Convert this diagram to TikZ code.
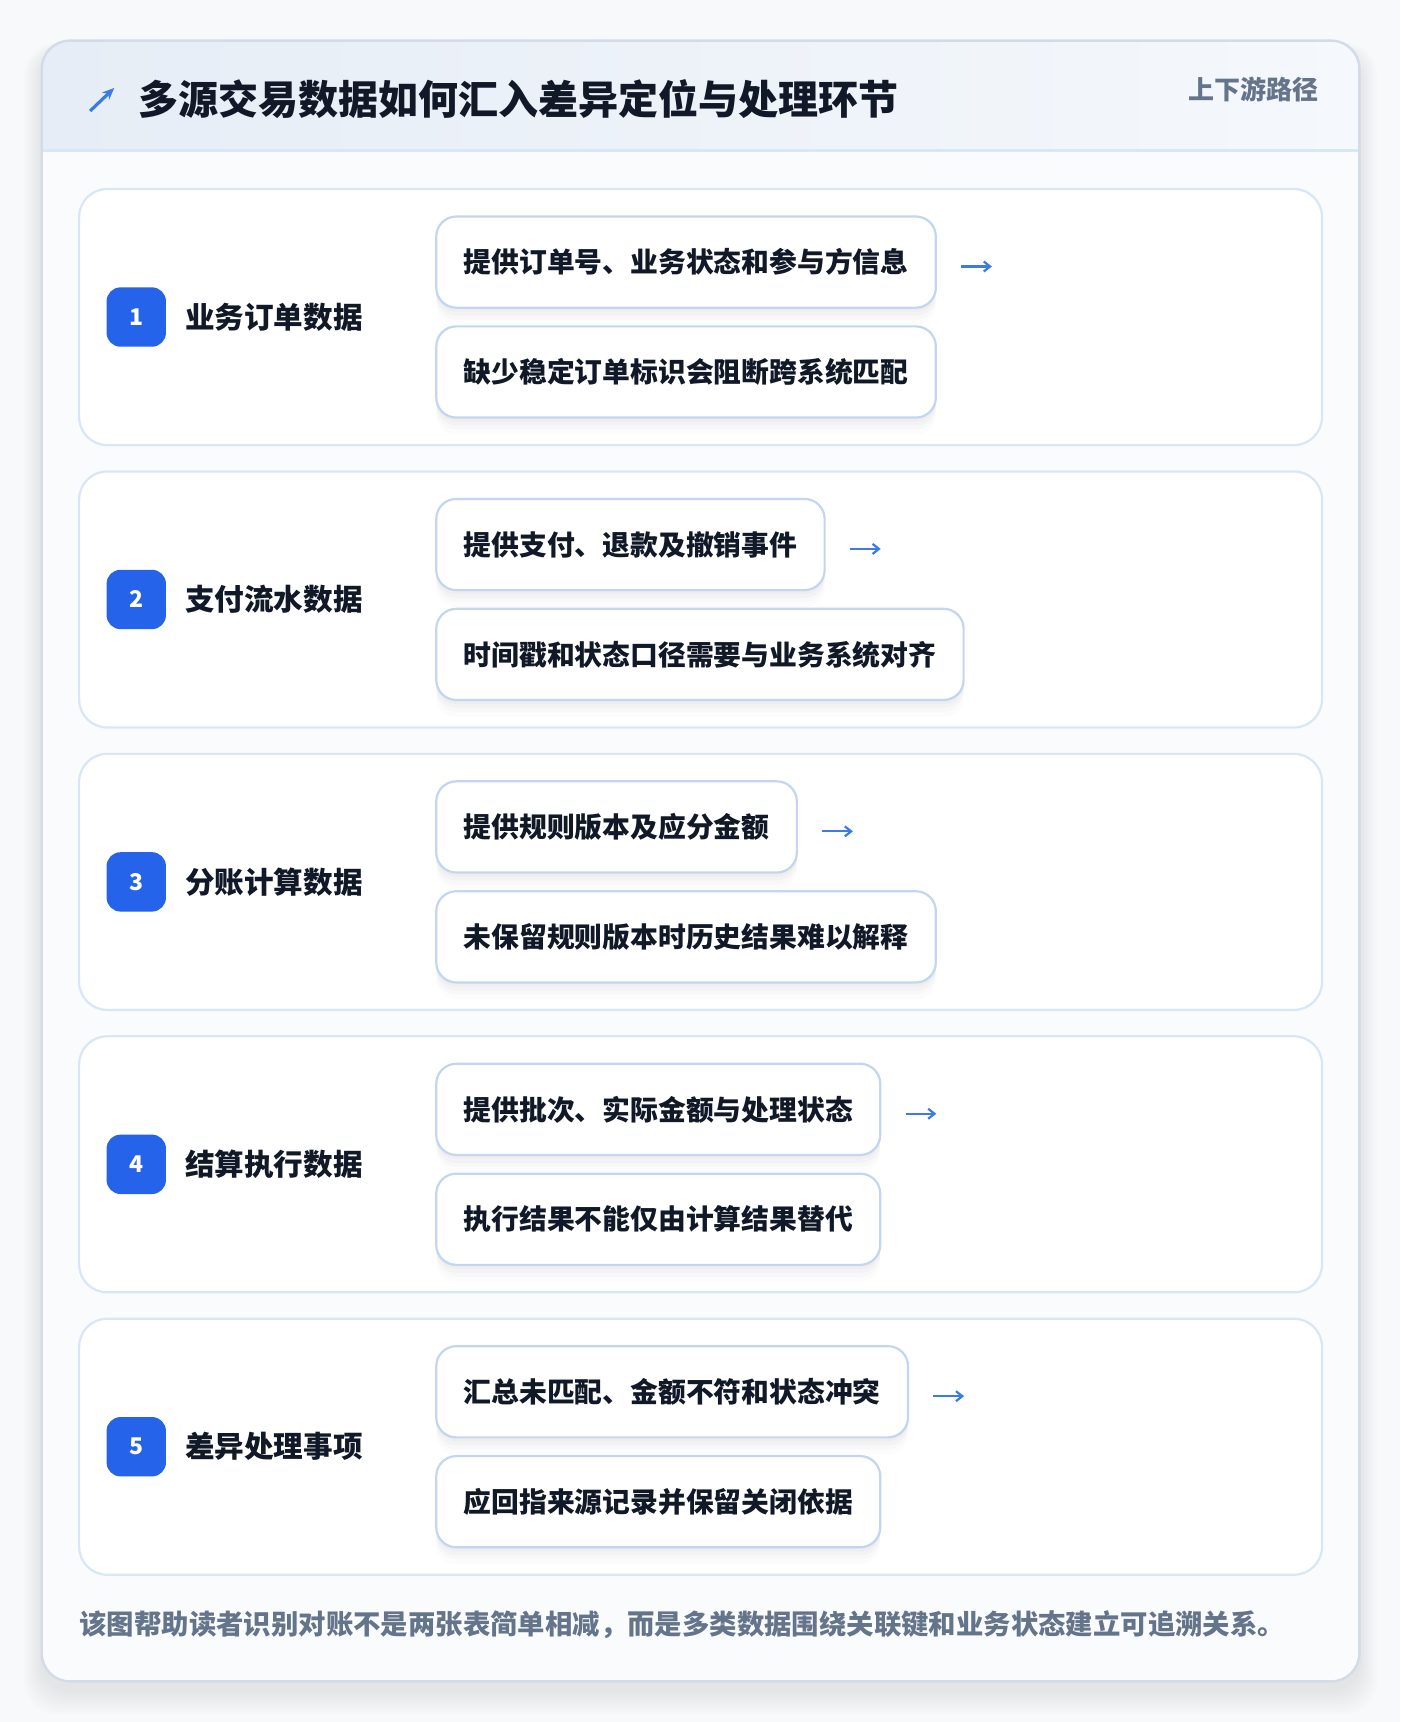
\documentclass[tikz,border=0pt]{standalone}
\usepackage{fontspec}
\setmainfont{Noto Sans CJK SC}
\usetikzlibrary{arrows.meta}
\definecolor{ink}{HTML}{111827}
\definecolor{badgeblue}{HTML}{2563EB}
\definecolor{arrowblue}{HTML}{3B7BE6}
\definecolor{cardline}{HTML}{D9E6F7}
\definecolor{boxline}{HTML}{C2D6F2}
\definecolor{muted}{HTML}{64748B}
\definecolor{pagebg}{HTML}{F8F9FB}
\definecolor{panelbg}{HTML}{FAFBFD}
\definecolor{hdrL}{HTML}{E6EDF6}
\definecolor{hdrR}{HTML}{F5F8FC}
\definecolor{frame}{HTML}{D3DBE6}
\tikzset{
  card/.style={draw=cardline, line width=1.1pt, fill=white, rounded corners=14pt},
  softshadow/.style={
    preaction={fill=black, opacity=0.018, transform canvas={yshift=-2pt}},
    preaction={fill=black, opacity=0.018, transform canvas={yshift=-4pt}},
    preaction={fill=black, opacity=0.016, transform canvas={yshift=-6pt}},
    preaction={fill=black, opacity=0.012, transform canvas={yshift=-8.5pt}}},
  box/.style={draw=boxline, line width=1.1pt, fill=white, rounded corners=10pt,
    anchor=west, inner xsep=13.7pt, inner ysep=0pt, minimum height=45.6pt,
    font=\bfseries\fontsize{13.9pt}{16pt}\selectfont, text=ink, softshadow},
  badge/.style={fill=badgeblue, rounded corners=7pt, minimum size=29.7pt, inner sep=0pt,
    text=white, font=\bfseries\fontsize{11.5pt}{13pt}\selectfont},
  lab/.style={anchor=west, inner sep=0pt, text=ink, font=\bfseries\fontsize{14.8pt}{17pt}\selectfont},
  flow/.style={draw=arrowblue, line width=1.1pt, -{Straight Barb[length=3.2pt,width=5pt]}}
}
\begin{document}
\begin{tikzpicture}[x=0.5495pt,y=-0.5495pt]
\useasboundingbox (0,0) rectangle (1274,1567);
\fill[pagebg] (0,0) rectangle (1274,1567);
% soft shadow of main panel
\foreach \k in {1,...,10}{
  \fill[black, opacity=0.008, rounded corners=16pt] (38-\k*1.6,37-\k*0.6+8) rectangle (1237+\k*1.6,1530+\k*2.2+8);
}
% main panel
\fill[white, rounded corners=14pt] (38,37) rectangle (1237,1530);
\begin{scope}
  \clip[rounded corners=14pt] (38,37) rectangle (1237,1530);
  \shade[left color=hdrL, right color=hdrR] (38,37) rectangle (1237,137);
  \fill[panelbg] (38,137) rectangle (1237,1530);
\end{scope}
\draw[cardline, line width=1.1pt] (38,137) -- (1237,137);
\draw[frame, line width=1.2pt, rounded corners=14pt] (38,37) rectangle (1237,1530);
% header
\coordinate (iconA) at (82,101);
\coordinate (iconB) at (104,80);
\draw[draw=arrowblue, line width=1.6pt, -{Stealth[length=6pt,width=5pt]}] (iconA) -- (iconB);
\node[anchor=west, inner sep=0pt, text=ink, font=\bfseries\fontsize{20pt}{24pt}\selectfont] (title) at (126,90) {多源交易数据如何汇入差异定位与处理环节};
\node[anchor=east, inner sep=0pt, text=muted, font=\bfseries\fontsize{13pt}{15pt}\selectfont] (tag) at (1200,81) {上下游路径};
% sections
\foreach \i/\lab/\ta/\tb in {
  1/业务订单数据/提供订单号、业务状态和参与方信息/缺少稳定订单标识会阻断跨系统匹配,
  2/支付流水数据/提供支付、退款及撤销事件/时间戳和状态口径需要与业务系统对齐,
  3/分账计算数据/提供规则版本及应分金额/未保留规则版本时历史结果难以解释,
  4/结算执行数据/提供批次、实际金额与处理状态/执行结果不能仅由计算结果替代,
  5/差异处理事项/汇总未匹配、金额不符和状态冲突/应回指来源记录并保留关闭依据}{
  \pgfmathsetmacro\ctop{172+257*(\i-1)}
  \pgfmathsetmacro\cbot{\ctop+233}
  \pgfmathsetmacro\cmid{\ctop+116.5}
  \pgfmathsetmacro\ya{\ctop+66.5}
  \pgfmathsetmacro\yb{\ctop+166.5}
  \draw[card] (72,\ctop) rectangle (1203,\cbot);
  \node[badge] (n\i) at (124,\cmid) {\i};
  \node[lab] (l\i) at (168,\cmid) {\lab};
  \node[box] (a\i) at (396,\ya) {\ta};
  \node[box] (b\i) at (396,\yb) {\tb};
  \coordinate (s\i) at ([xshift=12.1pt, yshift=-2.2pt]a\i.east);
  \coordinate (e\i) at ([xshift=27.5pt, yshift=-2.2pt]a\i.east);
  \draw[flow] (s\i) -- (e\i);
}
% footer
\node[anchor=west, inner sep=0pt, text=muted, font=\bfseries\fontsize{13.7pt}{16pt}\selectfont] (foot) at (72,1478) {该图帮助读者识别对账不是两张表简单相减，而是多类数据围绕关联键和业务状态建立可追溯关系。};
\end{tikzpicture}
\end{document}
